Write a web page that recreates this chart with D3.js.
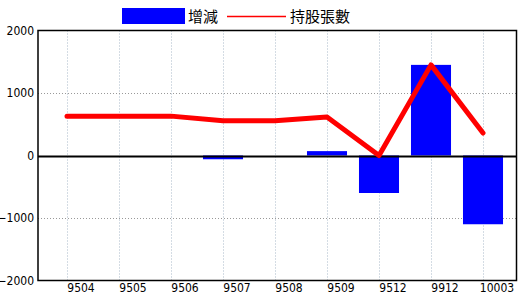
<!DOCTYPE html>
<html>
<head>
<meta charset="utf-8">
<script src="https://cdnjs.cloudflare.com/ajax/libs/d3/7.8.5/d3.min.js"></script>
<style>
  body { margin: 0; background: #fff; }
  svg { display: block; }
  .tick text { font-family: "Liberation Sans Narrow", "DejaVu Sans Condensed", sans-serif; font-size: 12px; fill: #000; }
</style>
</head>
<body>
<svg id="chart" width="520" height="300"></svg>
<script>
const months = ["9504", "9505", "9506", "9507", "9508", "9509", "9512", "9912", "10003"];
const changes = [0, 0, 0, -60, 0, 70, -600, 1450, -1100];
const holdings = [630, 630, 630, 555, 555, 615, 0, 1450, 360];
const yTicks = [-2000, -1000, 0, 1000, 2000];
const seriesNames = ["增減", "持股張數"];

const svg = d3.select("#chart");
const plotL = 38, plotR = 516.5, plotT = 30.5, plotB = 280.5;

const x = d3.scaleBand().domain(months).range([41, 509]).paddingInner(0.23).paddingOuter(0.115);
const y = d3.scaleLinear().domain([-2000, 2000]).range([plotB, plotT]);
const cx = d => x(d) + x.bandwidth() / 2;

// grid
const grid = svg.append("g");
grid.selectAll(".vg").data(months).join("line")
  .attr("x1", d => Math.round(cx(d)) + 0.5).attr("x2", d => Math.round(cx(d)) + 0.5)
  .attr("y1", plotT).attr("y2", plotB)
  .attr("stroke", "#a8b8c8").attr("stroke-dasharray", "1,2");
grid.selectAll(".hg").data([-1000, 1000]).join("line")
  .attr("x1", plotL).attr("x2", plotR)
  .attr("y1", d => Math.round(y(d)) + 0.5).attr("y2", d => Math.round(y(d)) + 0.5)
  .attr("stroke", "#999").attr("stroke-dasharray", "1,2");

// bars
svg.append("g").selectAll("rect").data(months).join("rect")
  .attr("x", d => x(d))
  .attr("width", x.bandwidth())
  .attr("y", (d, i) => y(Math.max(0, changes[i])))
  .attr("height", (d, i) => Math.abs(y(changes[i]) - y(0)))
  .attr("fill", "#0000ff");

// zero line
svg.append("line")
  .attr("x1", plotL).attr("x2", plotR)
  .attr("y1", Math.round(y(0)) + 0.5).attr("y2", Math.round(y(0)) + 0.5)
  .attr("stroke", "#000").attr("stroke-width", 2);

// line
const line = d3.line().x((d, i) => cx(months[i])).y(d => y(d));
svg.append("path").datum(holdings)
  .attr("d", line)
  .attr("fill", "none").attr("stroke", "#ff0000").attr("stroke-width", 5)
  .attr("stroke-linejoin", "round").attr("stroke-linecap", "round");

// frame
svg.append("rect")
  .attr("x", plotL).attr("y", plotT).attr("width", plotR - plotL).attr("height", plotB - plotT)
  .attr("fill", "none").attr("stroke", "#000").attr("stroke-width", 1.5);

// axes
svg.append("g")
  .attr("transform", `translate(${plotL},0)`)
  .call(d3.axisLeft(y).tickValues(yTicks).tickFormat(d3.format("d")).tickSize(0).tickPadding(4))
  .call(g => g.select(".domain").remove());

svg.append("g")
  .attr("transform", `translate(0,${plotB})`)
  .call(d3.axisBottom(x).tickSize(0).tickPadding(3))
  .call(g => g.select(".domain").remove())
  .call(g => g.selectAll(".tick text").attr("dx", 14));

// legend
const legend = svg.append("g").attr("font-family", "'Noto Sans CJK TC', sans-serif").attr("font-size", 15);
legend.append("rect").attr("x", 122).attr("y", 8).attr("width", 63).attr("height", 16).attr("fill", "#0000ff");
legend.append("text").attr("x", 188).attr("y", 22).text(seriesNames[0]);
legend.append("line").attr("x1", 227).attr("x2", 286).attr("y1", 16.5).attr("y2", 16.5)
  .attr("stroke", "#ff0000").attr("stroke-width", 1.5);
legend.append("text").attr("x", 290).attr("y", 22).text(seriesNames[1]);
</script>
</body>
</html>
